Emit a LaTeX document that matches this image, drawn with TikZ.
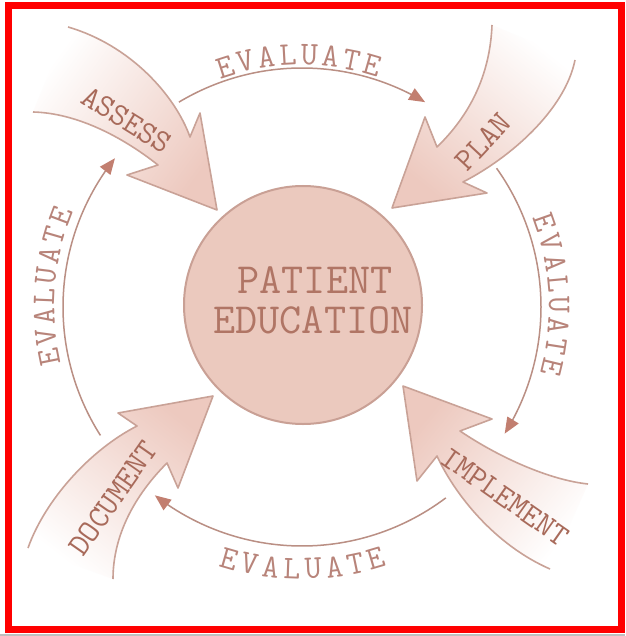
\documentclass[tikz,border=0pt]{standalone}
\usepackage{fontspec}
\usetikzlibrary{arrows.meta}
\definecolor{circfill}{HTML}{EBC9BE}
\definecolor{circdraw}{HTML}{C9A095}
\definecolor{ctextc}{HTML}{B07565}
\definecolor{lblc}{HTML}{A86A5A}
\definecolor{apink}{HTML}{EDC9BF}
\definecolor{adraw}{HTML}{C9A297}
\definecolor{evline}{HTML}{BA8F84}
\definecolor{evtip}{HTML}{C27F70}
\definecolor{evtext}{HTML}{B8847A}
\definecolor{framered}{HTML}{FF0000}
\tikzset{
  bigfill/.style={left color=white, right color=apink, draw=none},
  bigline/.style={draw=adraw, line width=1.6pt, line join=round},
  evarrow/.style={draw=evline, line width=1.5pt, -{Triangle[length=16pt,width=13pt,color=evtip]}},
  evl/.style={text=evtext, font={\fontsize{33}{33}\selectfont\ttfamily}, inner sep=0pt},
  lbl/.style={text=lblc, font={\fontsize{32}{32}\selectfont\ttfamily}, inner sep=0pt},
  ctext/.style={text=ctextc, font={\fontsize{43}{43}\selectfont\ttfamily}, inner sep=0pt},
  centre/.style={circle, minimum size=238pt, inner sep=0pt, fill=circfill, draw=circdraw, line width=2pt}
}
\begin{document}
\begin{tikzpicture}[x=1pt,y=-1pt]
\useasboundingbox (0,0) rectangle (625,636);
\fill[white] (0,0) rectangle (625,636);

% ---- big arrows ----
% ASSESS
\path[bigfill, shading angle=54] (68,27) .. controls (130,45) and (175,95) .. (190,137) -- (200,113) -- (217,210) -- (127,175) -- (158,165) .. controls (120,135) and (75,113) .. (33,112) -- cycle;
\draw[bigline] (68,27) .. controls (130,45) and (175,95) .. (190,137) -- (200,113) -- (217,210) -- (127,175) -- (158,165) .. controls (120,135) and (75,113) .. (33,112);
% PLAN
\path[bigfill, shading angle=-39] (492,25) .. controls (490,75) and (470,115) .. (437,147) -- (425,117) -- (392,208) -- (487,193) -- (463,182) .. controls (510,158) and (565,110) .. (575,60) -- cycle;
\draw[bigline] (492,25) .. controls (490,75) and (470,115) .. (437,147) -- (425,117) -- (392,208) -- (487,193) -- (463,182) .. controls (510,158) and (565,110) .. (575,60);
% IMPLEMENT
\path[bigfill, shading angle=-129] (588,484) .. controls (550,480) and (500,458) .. (460,431) -- (492,419) -- (403,386) -- (417,481) -- (437,456) .. controls (455,495) and (495,545) .. (550,569) -- cycle;
\draw[bigline] (588,484) .. controls (550,480) and (500,458) .. (460,431) -- (492,419) -- (403,386) -- (417,481) -- (437,456) .. controls (455,495) and (495,545) .. (550,569);
% DOCUMENT
\path[bigfill, shading angle=142] (28,548) .. controls (45,500) and (90,450) .. (137,426) -- (118,413) -- (213,396) -- (178,488) -- (167,463) .. controls (135,495) and (113,535) .. (113,579) -- cycle;
\draw[bigline] (28,548) .. controls (45,500) and (90,450) .. (137,426) -- (118,413) -- (213,396) -- (178,488) -- (167,463) .. controls (135,495) and (113,535) .. (113,579);

\node[lbl, rotate=-32] (assess) at (127,120) {ASSESS};
\node[lbl, rotate=47] (plan) at (483,142) {PLAN};
\node[lbl, rotate=-35] (implement) at (505,497) {IMPLEMENT};
\node[lbl, rotate=55] (document) at (113,498) {DOCUMENT};

% ---- centre ----
\node[centre] (pe) at (303,305) {};
\node[ctext, anchor=base] (pat) at (315,293) {PATIENT};
\node[ctext, anchor=base] (edu) at (313,333) {EDUCATION};

% ---- evaluate arcs ----
\draw[evarrow] plot[domain=121:59, samples=60, variable=\t] ({302+239*cos(\t)},{307-239*sin(\t)});
\draw[evarrow] plot[domain=35.5:-32, samples=60, variable=\t] ({302+239*cos(\t)},{307-239*sin(\t)});
\draw[evarrow] plot[domain=-53:-128, samples=60, variable=\t] ({302+239*cos(\t)},{307-239*sin(\t)});
\draw[evarrow] plot[domain=212.5:141.5, samples=60, variable=\t] ({302+239*cos(\t)},{307-239*sin(\t)});

\foreach \ch [count=\i from 0] in {E,V,A,L,U,A,T,E} {
  \pgfmathsetmacro\ang{107.7-4.84*\i}
  \node[evl, rotate=\ang-90] (ta\i) at ({302+252*cos(\ang)},{307-252*sin(\ang)}) {\ch};
}
\foreach \ch [count=\i from 0] in {E,V,A,L,U,A,T,E} {
  \pgfmathsetmacro\ang{19.3-4.69*\i}
  \node[evl, rotate=\ang-90] (tb\i) at ({302+257*cos(\ang)},{307-257*sin(\ang)}) {\ch};
}
\foreach \ch [count=\i from 0] in {E,V,A,L,U,A,T,E} {
  \pgfmathsetmacro\ang{-106.1+4.64*\i}
  \node[evl, rotate=\ang+90] (tc\i) at ({302+262*cos(\ang)},{307-262*sin(\ang)}) {\ch};
}
\foreach \ch [count=\i from 0] in {E,V,A,L,U,A,T,E} {
  \pgfmathsetmacro\ang{191.3-4.57*\i}
  \node[evl, rotate=\ang-90] (td\i) at ({302+258*cos(\ang)},{307-258*sin(\ang)}) {\ch};
}

% ---- frame ----
\draw[framered, line width=7.5pt] (8.5,5.5) rectangle (621.5,629.5);
\fill[gray!50] (0,633.5) rectangle (625,636);
\end{tikzpicture}
\end{document}
